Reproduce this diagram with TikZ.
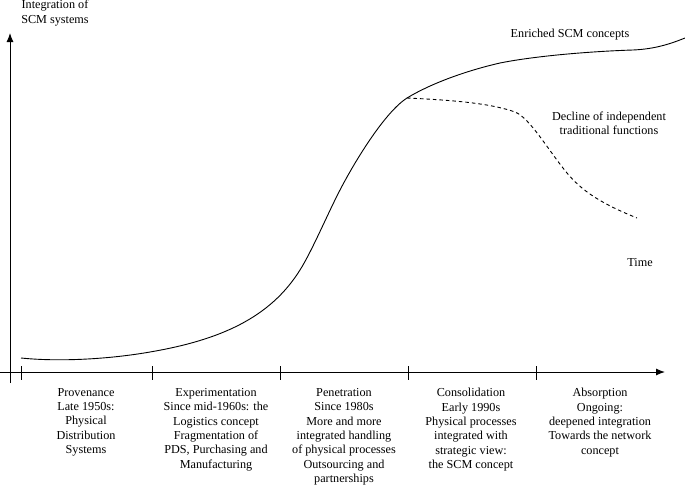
\documentclass[tikz,border=0pt]{standalone}
\usepackage{fontspec}
\setmainfont{Liberation Serif}
\usetikzlibrary{arrows.meta}
\begin{document}
\begin{tikzpicture}[x=1pt,y=-1pt,
  lbl/.style={font=\fontsize{12.2}{14.4}\selectfont, align=center, inner sep=0pt},
  axis/.style={line width=1pt, -{Latex[length=9pt,width=7pt]}},
  tick/.style={line width=0.8pt},
  curve/.style={line width=0.9pt},
  dcurve/.style={line width=0.9pt, dash pattern=on 3.5pt off 3pt}]
\useasboundingbox (0,0) rectangle (685,485);
% axes
\coordinate (yb) at (10,383);
\coordinate (yt) at (10,33);
\coordinate (xl) at (0,372);
\coordinate (xr) at (665,372);
\draw[axis] (yb) -- (yt);
\draw[axis] (xl) -- (xr);
% ticks
\foreach \x/\n in {21/t0,152/t1,280/t2,408/t3,536/t4}{
  \coordinate (\n a) at (\x,366);
  \coordinate (\n b) at (\x,380);
  \draw[tick] (\n a) -- (\n b);
}
% curves
\coordinate (split) at (407,98);
\draw[curve] (21,358) .. controls (60,362) and (110,359) .. (150,352)
  .. controls (220,340) and (270,318) .. (300,270)
  .. controls (312,251) and (328,213) .. (340,190)
  .. controls (355,161) and (385,112) .. (split)
  .. controls (430,84) and (465,71) .. (500,63)
  .. controls (540,55) and (600,51) .. (633,50)
  .. controls (655,49) and (670,44) .. (685,38);
\draw[dcurve] (split) .. controls (450,100) and (490,103) .. (515,112)
  .. controls (530,118) and (548,150) .. (567,173)
  .. controls (585,195) and (610,207) .. (637,218);
% labels
\node[lbl] (ylab) at (55,13) {Integration of\\SCM systems};
\node[lbl] (enr) at (570,35) {Enriched SCM concepts};
\node[lbl] (dec) at (609,123.5) {Decline of independent\\traditional functions};
\node[lbl] (time) at (640,263) {Time};
\node[lbl, anchor=north] (p1) at (86,388) {Provenance\\Late 1950s:\\Physical\\Distribution\\Systems};
\node[lbl, anchor=north] (p2) at (216,388) {Experimentation\\Since mid-1960s: the\\Logistics concept\\Fragmentation of\\PDS, Purchasing and\\Manufacturing};
\node[lbl, anchor=north] (p3) at (344,388) {Penetration\\Since 1980s\\More and more\\integrated handling\\of physical processes\\Outsourcing and\\partnerships};
\node[lbl, anchor=north] (p4) at (471,388) {Consolidation\\Early 1990s\\Physical processes\\integrated with\\strategic view:\\the SCM concept};
\node[lbl, anchor=north] (p5) at (600,388) {Absorption\\Ongoing:\\deepened integration\\Towards the network\\concept};
\end{tikzpicture}
\end{document}
